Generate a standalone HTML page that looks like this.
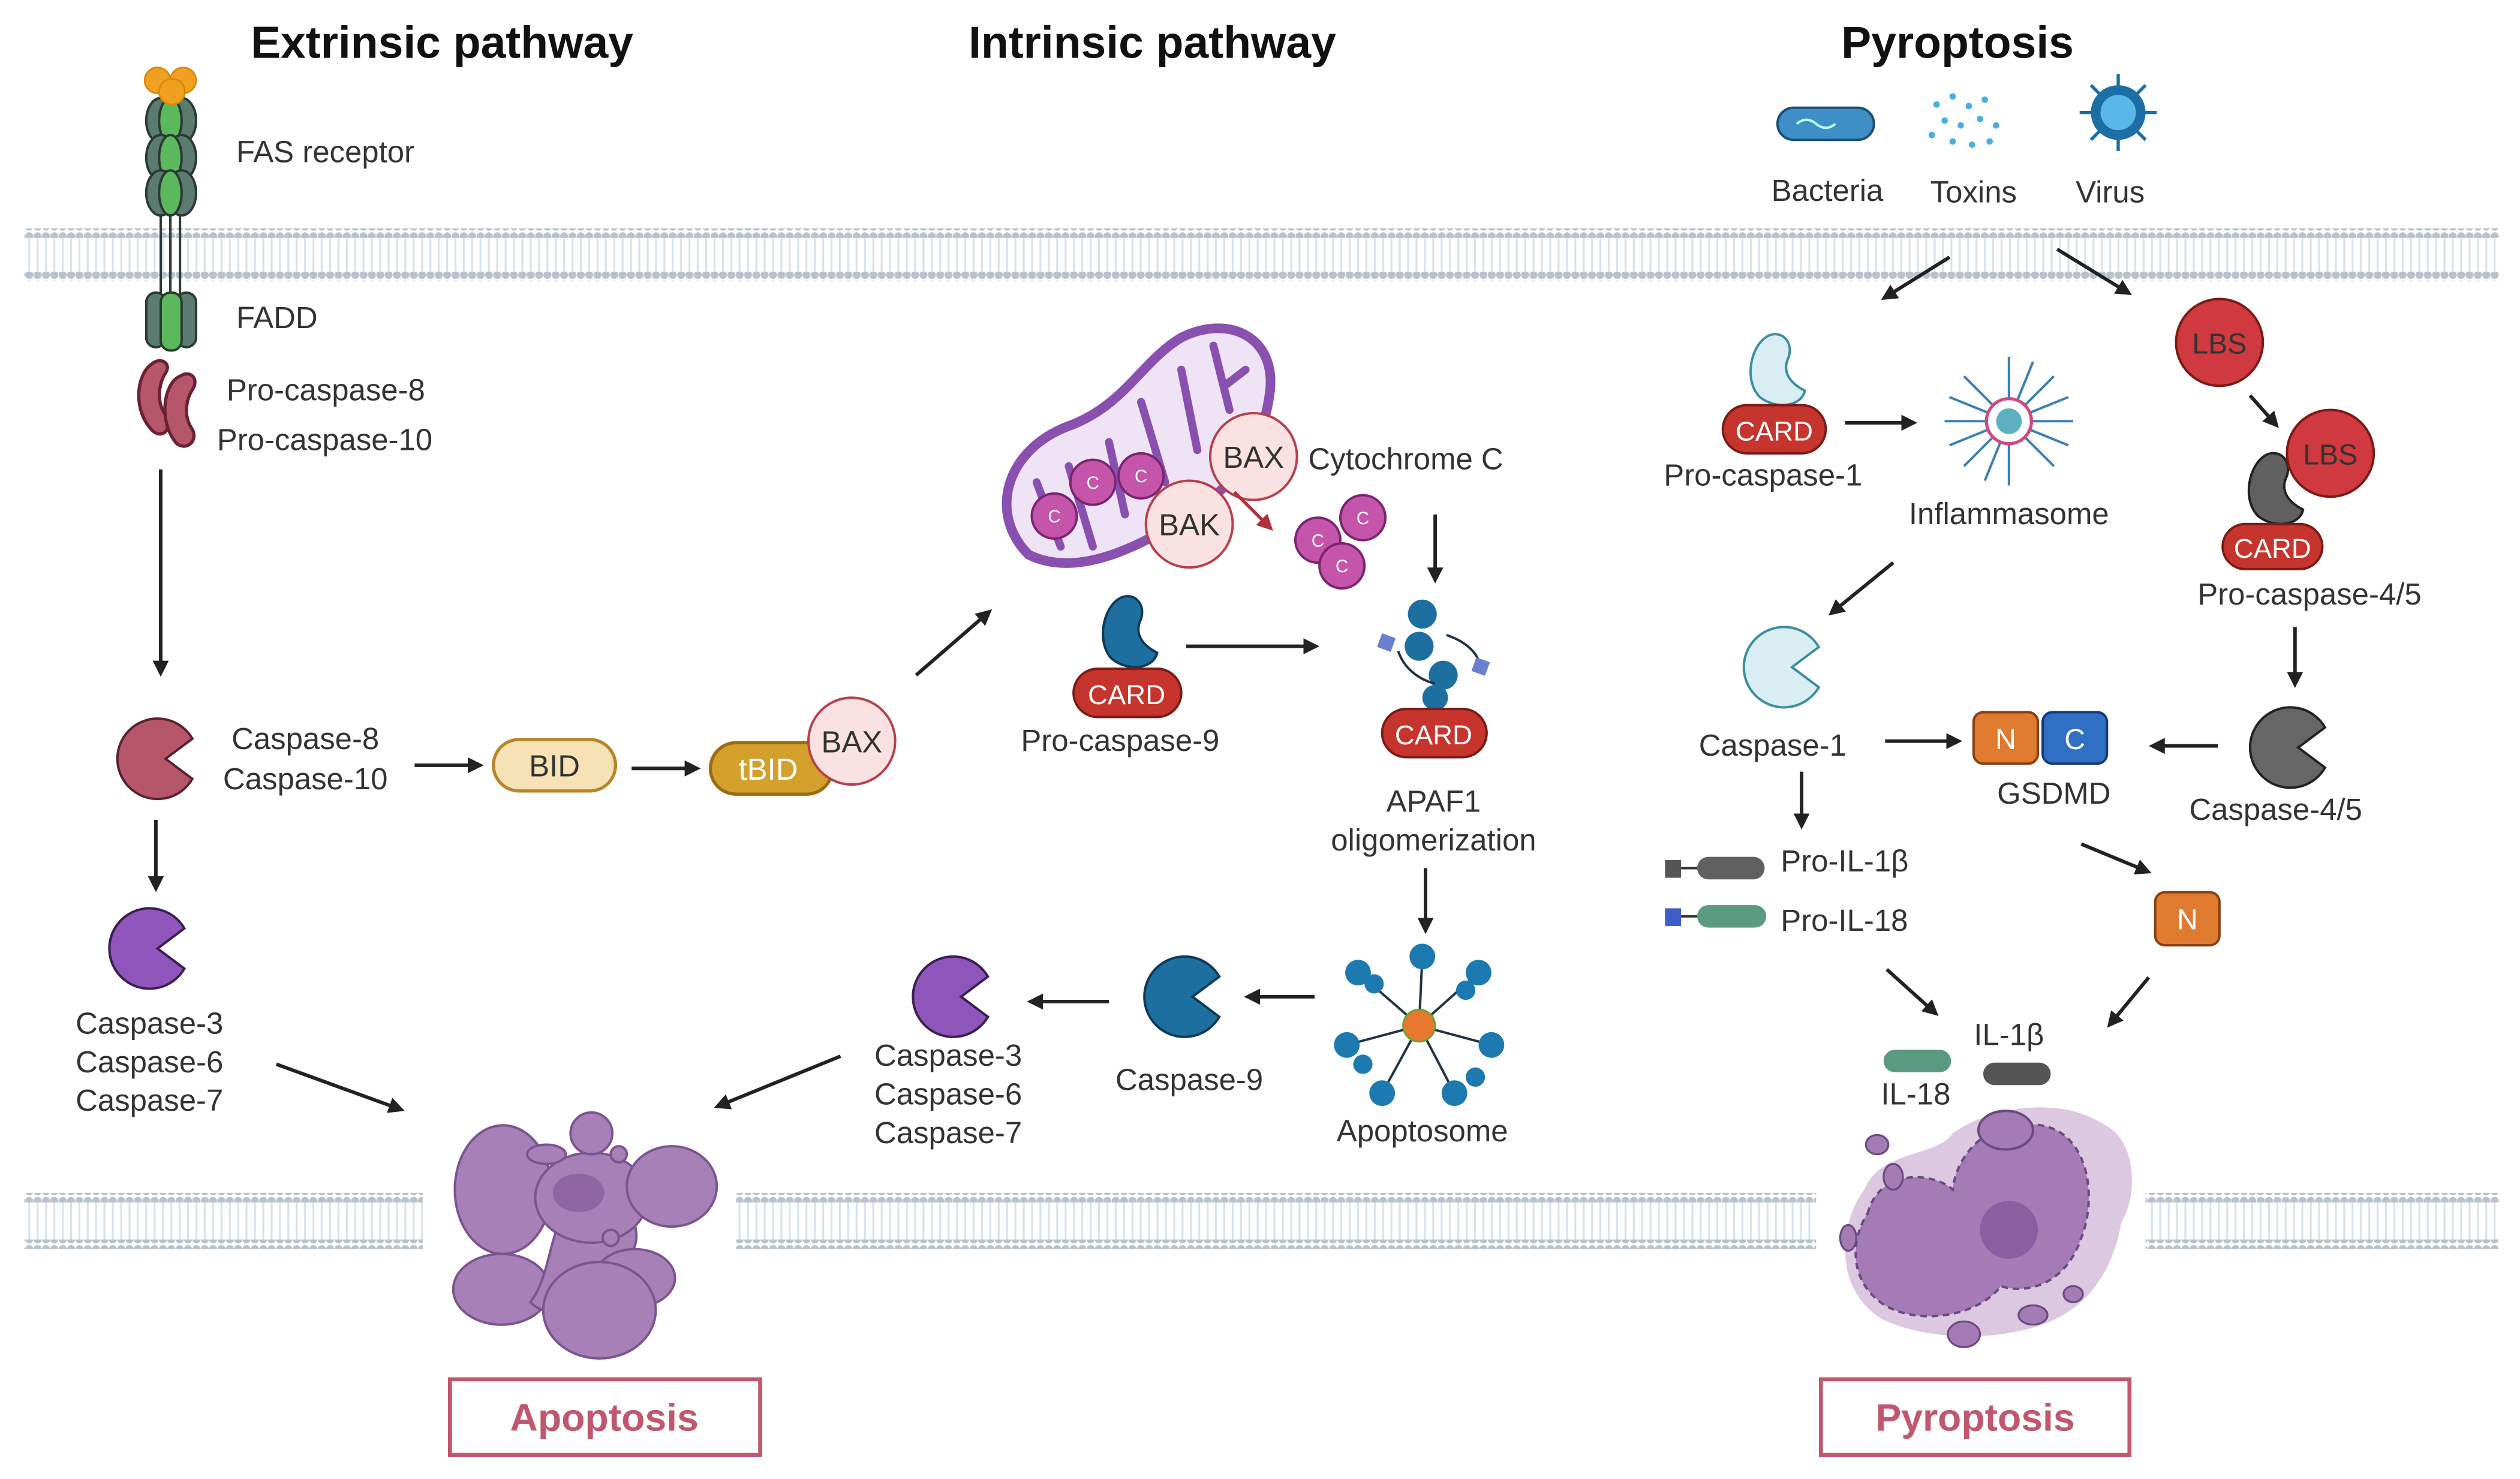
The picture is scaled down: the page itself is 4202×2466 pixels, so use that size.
<!DOCTYPE html>
<html><head><meta charset="utf-8"><style>
html,body{margin:0;padding:0;background:#fff;}
svg{display:block;}
text{font-family:"Liberation Sans",sans-serif;fill:#333;}
</style></head><body>
<svg width="4202" height="2466" viewBox="0 0 1568 920" preserveAspectRatio="none" xmlns="http://www.w3.org/2000/svg">
<defs>
<pattern id="dots" width="5.2" height="6" patternUnits="userSpaceOnUse"><circle cx="2.6" cy="3" r="2.5" fill="#b9c2cb"/></pattern>
<pattern id="tails" width="5.2" height="20" patternUnits="userSpaceOnUse"><line x1="2.6" y1="0" x2="2.6" y2="20" stroke="#d6e3ee" stroke-width="1.2"/></pattern>
<marker id="ah" markerWidth="10" markerHeight="10" refX="7" refY="5" orient="auto" markerUnits="userSpaceOnUse"><path d="M0,0 L10,5 L0,10 Z" fill="#222"/></marker>
<marker id="ahr" markerWidth="10" markerHeight="10" refX="7" refY="5" orient="auto" markerUnits="userSpaceOnUse"><path d="M0,0 L10,5 L0,10 Z" fill="#b3303a"/></marker>
<path id="pac" d="M21.7,-12.5 A25 25 0 1 0 21.7,12.5 L5,0 Z"/>
</defs>

<g>
<rect x="15" y="148" width="1540" height="22" fill="url(#tails)"/>
<rect x="15" y="142" width="1540" height="6" fill="url(#dots)"/>
<rect x="15" y="169" width="1540" height="6" fill="url(#dots)"/>
<rect x="15" y="748" width="248" height="24" fill="url(#tails)"/>
<rect x="15" y="742" width="248" height="6" fill="url(#dots)"/>
<rect x="15" y="771" width="248" height="6" fill="url(#dots)"/>
<rect x="458" y="748" width="672" height="24" fill="url(#tails)"/>
<rect x="458" y="742" width="672" height="6" fill="url(#dots)"/>
<rect x="458" y="771" width="672" height="6" fill="url(#dots)"/>
<rect x="1335" y="748" width="220" height="24" fill="url(#tails)"/>
<rect x="1335" y="742" width="220" height="6" fill="url(#dots)"/>
<rect x="1335" y="771" width="220" height="6" fill="url(#dots)"/>
</g>

<text x="275" y="36" font-size="28" font-weight="bold" text-anchor="middle" style="fill:#111">Extrinsic pathway</text>
<text x="717" y="36" font-size="28" font-weight="bold" text-anchor="middle" style="fill:#111">Intrinsic pathway</text>
<text x="1218" y="36" font-size="28" font-weight="bold" text-anchor="middle" style="fill:#111">Pyroptosis</text>

<g stroke="#2a3a33" stroke-width="1.5">
<line x1="100" y1="130" x2="100" y2="185"/><line x1="106" y1="130" x2="106" y2="185"/><line x1="112" y1="130" x2="112" y2="185"/>
<ellipse cx="100" cy="75" rx="9" ry="14" fill="#5b7b70"/><ellipse cx="113" cy="75" rx="9" ry="14" fill="#5b7b70"/><ellipse cx="106" cy="75" rx="7" ry="14" fill="#5cb85c"/>
<ellipse cx="100" cy="98" rx="9" ry="14" fill="#5b7b70"/><ellipse cx="113" cy="98" rx="9" ry="14" fill="#5b7b70"/><ellipse cx="106" cy="98" rx="7" ry="14" fill="#5cb85c"/>
<ellipse cx="100" cy="120" rx="9" ry="14" fill="#5b7b70"/><ellipse cx="113" cy="120" rx="9" ry="14" fill="#5b7b70"/><ellipse cx="106" cy="120" rx="7" ry="14" fill="#5cb85c"/>
<rect x="91" y="182" width="12" height="34" rx="6" fill="#5b7b70"/><rect x="110" y="182" width="12" height="34" rx="6" fill="#5b7b70"/><rect x="100" y="182" width="13" height="36" rx="6" fill="#5cb85c"/>
</g>
<g fill="#f0a020" stroke="#d48800" stroke-width="1"><circle cx="98" cy="50" r="8"/><circle cx="114" cy="50" r="8"/><circle cx="107" cy="57" r="8"/></g>
<text x="147" y="101" font-size="19">FAS receptor</text>
<text x="147" y="204" font-size="19">FADD</text>
<g fill="#b5566a" stroke="#6a2233" stroke-width="2">
<path d="M95,226 C85,232 82,255 95,268 C102,274 108,265 103,258 C97,250 99,238 103,232 C107,226 100,222 95,226Z"/>
<path d="M112,234 C102,238 98,262 110,276 C117,281 124,273 119,266 C114,258 116,248 120,242 C124,235 118,230 112,234Z"/>
</g>
<text x="141" y="249" font-size="19">Pro-caspase-8</text>
<text x="135" y="280" font-size="19">Pro-caspase-10</text>

<g stroke="#222" stroke-width="2.2" fill="none" marker-end="url(#ah)">
<line x1="100" y1="292" x2="100" y2="418"/>
<line x1="97" y1="510" x2="97" y2="552"/>
<line x1="258" y1="476" x2="298" y2="476"/>
<line x1="393" y1="478" x2="433" y2="478"/>
<line x1="570" y1="420" x2="615" y2="381"/>
<line x1="172" y1="662" x2="249" y2="690"/>
<line x1="523" y1="657" x2="447" y2="688"/>
<line x1="893" y1="320" x2="893" y2="360"/>
<line x1="738" y1="402" x2="818" y2="402"/>
<line x1="887" y1="540" x2="887" y2="578"/>
<line x1="818" y1="620" x2="777" y2="620"/>
<line x1="690" y1="623" x2="642" y2="623"/>
<line x1="1213" y1="160" x2="1173" y2="185"/>
<line x1="1280" y1="155" x2="1324" y2="182"/>
<line x1="1148" y1="263" x2="1190" y2="263"/>
<line x1="1400" y1="246" x2="1416" y2="264"/>
<line x1="1428" y1="390" x2="1428" y2="425"/>
<line x1="1178" y1="350" x2="1140" y2="381"/>
<line x1="1173" y1="461" x2="1218" y2="461"/>
<line x1="1380" y1="464" x2="1340" y2="464"/>
<line x1="1121" y1="480" x2="1121" y2="513"/>
<line x1="1295" y1="525" x2="1336" y2="542"/>
<line x1="1174" y1="603" x2="1204" y2="630"/>
<line x1="1337" y1="608" x2="1313" y2="637"/>
</g>

<use href="#pac" transform="translate(98,472)" fill="#b5566a" stroke="#5a2230" stroke-width="1.5"/>
<text x="190" y="466" font-size="19" text-anchor="middle">Caspase-8</text>
<text x="190" y="491" font-size="19" text-anchor="middle">Caspase-10</text>
<rect x="307" y="460" width="76" height="32" rx="16" fill="#f7e2b5" stroke="#b8862a" stroke-width="2"/>
<text x="345" y="483" font-size="19" text-anchor="middle">BID</text>
<rect x="442" y="462" width="76" height="32" rx="16" fill="#d4a02c" stroke="#9a6c15" stroke-width="2"/>
<text x="478" y="485" font-size="19" text-anchor="middle" style="fill:#fff">tBID</text>
<circle cx="530" cy="461" r="27" fill="#fbe2e2" stroke="#b8404c" stroke-width="1.5"/>
<text x="530" y="468" font-size="19" text-anchor="middle">BAX</text>

<use href="#pac" transform="translate(93,590)" fill="#8e55bb" stroke="#3a1f50" stroke-width="1.5"/>
<text x="93" y="643" font-size="19" text-anchor="middle">Caspase-3</text>
<text x="93" y="667" font-size="19" text-anchor="middle">Caspase-6</text>
<text x="93" y="691" font-size="19" text-anchor="middle">Caspase-7</text>

<g fill="#a880b8" stroke="#7a5590" stroke-width="1.5">
<ellipse cx="313" cy="740" rx="30" ry="40"/>
<ellipse cx="312" cy="802" rx="30" ry="22"/>
<path d="M330,810 C345,790 340,760 360,745 C385,735 400,760 395,775 C390,790 370,790 365,805 C360,820 340,820 330,810Z"/>
<ellipse cx="368" cy="745" rx="35" ry="28"/>
<ellipse cx="418" cy="738" rx="28" ry="25"/>
<ellipse cx="395" cy="795" rx="25" ry="18"/>
<ellipse cx="373" cy="815" rx="35" ry="30"/>
<circle cx="368" cy="705" r="13"/>
<ellipse cx="340" cy="718" rx="12" ry="6"/>
<circle cx="385" cy="718" r="5"/>
<circle cx="380" cy="770" r="5"/>
</g>
<ellipse cx="360" cy="742" rx="16" ry="12" fill="#8f65a3"/>
<rect x="280" y="858" width="193" height="47" fill="#fff" stroke="#c0576e" stroke-width="2.5"/>
<text x="376" y="890" font-size="24" font-weight="bold" text-anchor="middle" style="fill:#c0576e">Apoptosis</text>

<path d="M640,345 C615,320 625,280 665,265 C700,252 710,225 735,210 C765,195 795,210 790,245 C785,280 770,300 740,320 C710,340 670,360 640,345Z" fill="#efe4f5" stroke="#8a50b0" stroke-width="6"/>
<g stroke="#8a50b0" stroke-width="5" stroke-linecap="round" fill="none">
<line x1="645" y1="300" x2="660" y2="340"/><line x1="665" y1="290" x2="680" y2="340"/><line x1="690" y1="275" x2="700" y2="320"/>
<line x1="710" y1="250" x2="725" y2="300"/><line x1="735" y1="230" x2="745" y2="280"/><line x1="755" y1="215" x2="765" y2="255"/><line x1="775" y1="230" x2="762" y2="240"/>
</g>
<g fill="#c455aa" stroke="#7a2570" stroke-width="1.5">
<circle cx="656" cy="321" r="14"/><circle cx="680" cy="300" r="14"/><circle cx="710" cy="296" r="14"/>
<circle cx="820" cy="336" r="14"/><circle cx="848" cy="322" r="14"/><circle cx="835" cy="352" r="14"/>
</g>
<g font-size="11" text-anchor="middle">
<text x="656" y="325" style="fill:#fff">C</text><text x="680" y="304" style="fill:#fff">C</text><text x="710" y="300" style="fill:#fff">C</text>
<text x="820" y="340" style="fill:#fff">C</text><text x="848" y="326" style="fill:#fff">C</text><text x="835" y="356" style="fill:#fff">C</text>
</g>
<circle cx="740" cy="326" r="27" fill="#fbe2e2" stroke="#b8404c" stroke-width="1.5"/>
<text x="740" y="333" font-size="19" text-anchor="middle">BAK</text>
<circle cx="780" cy="284" r="27" fill="#fbe2e2" stroke="#b8404c" stroke-width="1.5"/>
<text x="780" y="291" font-size="19" text-anchor="middle">BAX</text>
<line x1="768" y1="306" x2="790" y2="328" stroke="#b3303a" stroke-width="2" marker-end="url(#ahr)"/>
<text x="814" y="292" font-size="19">Cytochrome C</text>

<path d="M697,372 C686,378 682,400 692,410 C702,418 718,416 720,406 C712,402 705,395 710,385 C713,375 705,368 697,372Z" fill="#1d6fa0" stroke="#0e3a55" stroke-width="1.5"/>
<rect x="668" y="416" width="67" height="30" rx="15" fill="#c5352d" stroke="#7a1b16" stroke-width="1.5"/>
<text x="701" y="438" font-size="17" text-anchor="middle" style="fill:#fff">CARD</text>
<text x="697" y="467" font-size="19" text-anchor="middle">Pro-caspase-9</text>

<g fill="#1d6fa0">
<circle cx="885" cy="382" r="9"/><circle cx="883" cy="402" r="9"/><circle cx="898" cy="420" r="9"/><circle cx="893" cy="434" r="8"/>
</g>
<path d="M870,405 C875,420 890,425 893,425 M900,395 C915,400 922,410 920,415" stroke="#234" stroke-width="1.5" fill="none"/>
<rect x="858" y="395" width="9" height="9" fill="#6a7fd0" transform="rotate(20 862 400)"/>
<rect x="917" y="410" width="9" height="9" fill="#6a7fd0" transform="rotate(20 921 414)"/>
<rect x="860" y="441" width="65" height="30" rx="15" fill="#c5352d" stroke="#7a1b16" stroke-width="1.5"/>
<text x="892" y="463" font-size="17" text-anchor="middle" style="fill:#fff">CARD</text>
<text x="892" y="505" font-size="19" text-anchor="middle">APAF1</text>
<text x="892" y="529" font-size="19" text-anchor="middle">oligomerization</text>

<g stroke="#234" stroke-width="1.5">
<line x1="883" y1="638" x2="845" y2="605"/><line x1="883" y1="638" x2="885" y2="595"/><line x1="883" y1="638" x2="920" y2="605"/>
<line x1="883" y1="638" x2="928" y2="650"/><line x1="883" y1="638" x2="905" y2="680"/><line x1="883" y1="638" x2="860" y2="680"/>
<line x1="883" y1="638" x2="838" y2="650"/>
</g>
<g fill="#1d7ab0">
<circle cx="845" cy="605" r="8"/><circle cx="885" cy="595" r="8"/><circle cx="920" cy="605" r="8"/><circle cx="928" cy="650" r="8"/>
<circle cx="905" cy="680" r="8"/><circle cx="860" cy="680" r="8"/><circle cx="838" cy="650" r="8"/>
<circle cx="855" cy="612" r="6"/><circle cx="912" cy="616" r="6"/><circle cx="848" cy="662" r="6"/><circle cx="918" cy="670" r="6"/>
</g>
<circle cx="883" cy="638" r="10" fill="#e8782e" stroke="#5a3" stroke-width="1"/>
<text x="885" y="710" font-size="19" text-anchor="middle">Apoptosome</text>

<use href="#pac" transform="translate(737,620)" fill="#1d6fa0" stroke="#0e3a55" stroke-width="1.5"/>
<text x="740" y="678" font-size="19" text-anchor="middle">Caspase-9</text>
<use href="#pac" transform="translate(593,620)" fill="#8e55bb" stroke="#3a1f50" stroke-width="1.5"/>
<text x="590" y="663" font-size="19" text-anchor="middle">Caspase-3</text>
<text x="590" y="687" font-size="19" text-anchor="middle">Caspase-6</text>
<text x="590" y="711" font-size="19" text-anchor="middle">Caspase-7</text>

<rect x="1106" y="67" width="60" height="20" rx="10" fill="#3e8fc8" stroke="#1c4e75" stroke-width="1.5"/>
<path d="M1118,77 q6,-5 12,0 t12,0" stroke="#bfe" stroke-width="1.5" fill="none"/>
<g fill="#4aaee0">
<circle cx="1205" cy="65" r="2"/><circle cx="1215" cy="60" r="2"/><circle cx="1225" cy="66" r="2"/><circle cx="1235" cy="62" r="2"/>
<circle cx="1210" cy="75" r="2"/><circle cx="1220" cy="78" r="2"/><circle cx="1232" cy="74" r="2"/><circle cx="1242" cy="78" r="2"/>
<circle cx="1215" cy="88" r="2"/><circle cx="1227" cy="90" r="2"/><circle cx="1238" cy="88" r="2"/><circle cx="1202" cy="84" r="2"/>
</g>
<g stroke="#1c6ea5" stroke-width="2">
<line x1="1318" y1="46" x2="1318" y2="94"/><line x1="1294" y1="70" x2="1342" y2="70"/>
<line x1="1301" y1="53" x2="1335" y2="87"/><line x1="1335" y1="53" x2="1301" y2="87"/>
</g>
<circle cx="1318" cy="70" r="17" fill="#1c6ea5"/><circle cx="1318" cy="70" r="11" fill="#5ab8e8"/>
<text x="1137" y="125" font-size="19" text-anchor="middle">Bacteria</text>
<text x="1228" y="126" font-size="19" text-anchor="middle">Toxins</text>
<text x="1313" y="126" font-size="19" text-anchor="middle">Virus</text>

<path d="M1100,209 C1089,215 1085,237 1095,247 C1105,255 1121,253 1123,243 C1115,239 1108,232 1113,222 C1116,212 1108,205 1100,209Z" fill="#d8eef3" stroke="#3d8ea0" stroke-width="1.5"/>
<rect x="1072" y="252" width="64" height="30" rx="15" fill="#c5352d" stroke="#7a1b16" stroke-width="1.5"/>
<text x="1104" y="274" font-size="17" text-anchor="middle" style="fill:#fff">CARD</text>
<text x="1097" y="302" font-size="19" text-anchor="middle">Pro-caspase-1</text>

<g stroke="#3a7fb5" stroke-width="1.5">
<line x1="1250" y1="262" x2="1250" y2="222"/><line x1="1250" y1="262" x2="1278" y2="234"/><line x1="1250" y1="262" x2="1290" y2="262"/>
<line x1="1250" y1="262" x2="1278" y2="290"/><line x1="1250" y1="262" x2="1250" y2="302"/><line x1="1250" y1="262" x2="1222" y2="290"/>
<line x1="1250" y1="262" x2="1210" y2="262"/><line x1="1250" y1="262" x2="1222" y2="234"/>
<line x1="1250" y1="262" x2="1265" y2="225"/><line x1="1250" y1="262" x2="1287" y2="247"/><line x1="1250" y1="262" x2="1287" y2="277"/>
<line x1="1250" y1="262" x2="1235" y2="299"/><line x1="1250" y1="262" x2="1213" y2="277"/><line x1="1250" y1="262" x2="1213" y2="247"/>
</g>
<circle cx="1250" cy="262" r="14" fill="#fff" stroke="#d04a80" stroke-width="2"/>
<circle cx="1250" cy="262" r="8" fill="#5cb0c0"/>
<text x="1250" y="326" font-size="19" text-anchor="middle">Inflammasome</text>

<circle cx="1381" cy="213" r="27" fill="#d0393f" stroke="#7a1b16" stroke-width="1.5"/>
<text x="1381" y="220" font-size="18" text-anchor="middle">LBS</text>
<path d="M1410,283 C1399,289 1395,311 1405,321 C1415,329 1431,327 1433,317 C1425,313 1418,306 1423,296 C1426,286 1418,279 1410,283Z" fill="#606060" stroke="#222" stroke-width="1.5"/>
<circle cx="1450" cy="282" r="27" fill="#d0393f" stroke="#7a1b16" stroke-width="1.5"/>
<text x="1450" y="289" font-size="18" text-anchor="middle">LBS</text>
<rect x="1383" y="326" width="62" height="28" rx="14" fill="#c5352d" stroke="#7a1b16" stroke-width="1.5"/>
<text x="1414" y="347" font-size="17" text-anchor="middle" style="fill:#fff">CARD</text>
<text x="1437" y="376" font-size="19" text-anchor="middle">Pro-caspase-4/5</text>

<use href="#pac" transform="translate(1425,465)" fill="#666" stroke="#222" stroke-width="1.5"/>
<text x="1416" y="510" font-size="19" text-anchor="middle">Caspase-4/5</text>
<use href="#pac" transform="translate(1110,415)" fill="#d8eef3" stroke="#3d8ea0" stroke-width="1.5"/>
<text x="1103" y="470" font-size="19" text-anchor="middle">Caspase-1</text>

<rect x="1228" y="443" width="40" height="32" rx="6" fill="#df7a2f" stroke="#8a3f10" stroke-width="1.5"/>
<text x="1248" y="466" font-size="18" text-anchor="middle" style="fill:#fff">N</text>
<rect x="1271" y="443" width="40" height="32" rx="6" fill="#2f6fc4" stroke="#163a75" stroke-width="1.5"/>
<text x="1291" y="466" font-size="18" text-anchor="middle" style="fill:#fff">C</text>
<text x="1278" y="500" font-size="19" text-anchor="middle">GSDMD</text>

<rect x="1341" y="555" width="40" height="33" rx="6" fill="#df7a2f" stroke="#8a3f10" stroke-width="1.5"/>
<text x="1361" y="578" font-size="18" text-anchor="middle" style="fill:#fff">N</text>

<rect x="1036" y="535" width="10" height="11" fill="#555"/><line x1="1046" y1="540" x2="1058" y2="540" stroke="#333" stroke-width="1.5"/>
<rect x="1056" y="533" width="42" height="14" rx="7" fill="#606060"/>
<text x="1108" y="542" font-size="19">Pro-IL-1β</text>
<rect x="1036" y="565" width="10" height="11" fill="#3f5fc8"/><line x1="1046" y1="570" x2="1058" y2="570" stroke="#333" stroke-width="1.5"/>
<rect x="1056" y="563" width="43" height="14" rx="7" fill="#5a9a80"/>
<text x="1108" y="579" font-size="19">Pro-IL-18</text>
<text x="1250" y="650" font-size="19" text-anchor="middle">IL-1β</text>
<rect x="1234" y="661" width="42" height="14" rx="7" fill="#555"/>
<rect x="1172" y="653" width="42" height="14" rx="7" fill="#5a9a80"/>
<text x="1192" y="687" font-size="19" text-anchor="middle">IL-18</text>

<path d="M1160,740 C1170,715 1205,720 1215,705 C1235,690 1280,680 1310,700 C1330,710 1330,745 1320,760 C1315,790 1300,810 1280,820 C1250,835 1200,835 1170,820 C1140,800 1145,760 1160,740Z" fill="#dcc8e0"/>
<path d="M1162,755 C1170,725 1205,730 1215,740 C1218,715 1240,695 1270,700 C1300,705 1305,745 1295,770 C1285,800 1260,805 1245,800 C1230,820 1190,825 1170,810 C1150,795 1152,770 1162,755Z" fill="#a57bb5" stroke="#6b4a80" stroke-width="1.5" stroke-dasharray="4 3"/>
<ellipse cx="1250" cy="765" rx="18" ry="18" fill="#8a5ea0"/>
<ellipse cx="1248" cy="703" rx="17" ry="12" fill="#a57bb5" stroke="#6b4a80" stroke-width="1.5"/>
<g fill="#a57bb5" stroke="#6b4a80" stroke-width="1.2">
<ellipse cx="1178" cy="732" rx="6" ry="8"/><ellipse cx="1150" cy="770" rx="5" ry="8"/><ellipse cx="1168" cy="712" rx="7" ry="6"/>
<ellipse cx="1222" cy="830" rx="10" ry="8"/><ellipse cx="1265" cy="818" rx="9" ry="6"/><ellipse cx="1290" cy="805" rx="6" ry="5"/>
</g>
<rect x="1133" y="858" width="192" height="47" fill="#fff" stroke="#c0576e" stroke-width="2.5"/>
<text x="1229" y="890" font-size="24" font-weight="bold" text-anchor="middle" style="fill:#c0576e">Pyroptosis</text>
</svg>
</body></html>
